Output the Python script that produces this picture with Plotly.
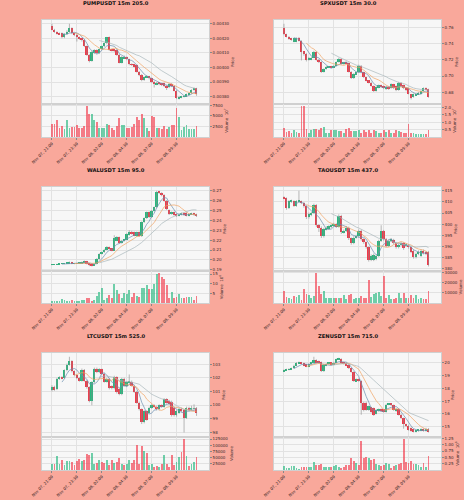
import plotly.graph_objects as go
import pandas as pd

# ---------------- data ----------------
times = pd.date_range("2025-11-07 21:00", periods=59, freq="15min")

titles = ["PUMPUSDT 15m 205.0", "SPXUSDT 15m 30.0", "WALUSDT 15m 95.0",
          "TAOUSDT 15m 437.0", "LTCUSDT 15m 525.0", "ZENUSDT 15m 715.0"]

pump_open = [.004286,.004259,.004243,.004236,.004236,.004206,.004229,.004247,.004270,.004236,
             .004224,.004208,.004201,.004190,.004144,.004086,.004045,.004098,.004121,.004098,
             .004125,.004144,.004167,.004206,.004121,.004121,.004121,.004086,.004033,.004063,
             .004070,.004056,.004022,.004017,.004017,.003971,.003948,.003914,.003932,.003937,
             .003925,.003902,.003884,.003895,.003891,.003891,.003872,.003863,.003886,.003872,
             .003840,.003787,.003794,.003799,.003803,.003815,.003822,.003845,.003856]
pump_close = [.004259,.004243,.004231,.004229,.004206,.004229,.004247,.004270,.004236,.004224,
              .004208,.004201,.004190,.004144,.004086,.004045,.004109,.004121,.004098,.004125,
              .004144,.004167,.004206,.004121,.004119,.004114,.004086,.004033,.004070,.004075,
              .004056,.004022,.004017,.004006,.003971,.003948,.003914,.003932,.003941,.003925,
              .003902,.003884,.003895,.003884,.003879,.003872,.003863,.003886,.003872,.003840,
              .003787,.003799,.003799,.003803,.003815,.003822,.003845,.003856,.003815]
pump_high = [.004300,.004265,.004248,.004240,.004240,.004236,.004255,.004300,.004275,.004240,
             .004229,.004212,.004206,.004195,.004150,.004092,.004115,.004125,.004125,.004130,
             .004150,.004172,.004210,.004212,.004128,.004125,.004125,.004092,.004078,.004082,
             .004075,.004060,.004028,.004022,.004022,.003975,.003955,.003938,.003948,.003942,
             .003930,.003908,.003900,.003900,.003895,.003895,.003878,.003892,.003892,.003878,
             .003845,.003805,.003805,.003810,.003820,.003828,.003850,.003862,.003860]
pump_low = [.004255,.004238,.004226,.004224,.004200,.004201,.004224,.004240,.004229,.004215,
            .004178,.004190,.004178,.004140,.004080,.004035,.004040,.004092,.004092,.004092,
            .004120,.004140,.004160,.004115,.004110,.004105,.004080,.004028,.004028,.004058,
            .004050,.004015,.004010,.004000,.003965,.003940,.003905,.003908,.003928,.003918,
            .003895,.003862,.003878,.003878,.003872,.003865,.003845,.003858,.003865,.003835,
            .003782,.003780,.003788,.003794,.003798,.003810,.003818,.003840,.003805]
pump_vol = [3125,3125,3906,2188,2500,1797,4063,2188,2344,2344,
            2734,2188,2188,2500,7188,5313,5313,3906,3438,2109,
            2109,2109,3125,2734,2188,1563,2500,4375,2891,2891,
            2188,2188,2344,2969,4688,3906,5469,4531,2188,1328,
            4844,4688,2188,2188,1953,2656,1953,2344,2734,2734,
            6875,4609,1641,2422,2891,1875,1875,1875,2656]

spx_open = [.7588,.7513,.7483,.7463,.7421,.7421,.7463,.7433,.7296,.7275,
            .7200,.7200,.7225,.7296,.7200,.7171,.7054,.7088,.7108,.7117,
            .7108,.7129,.7171,.7213,.7150,.7167,.7158,.7054,.6975,.7025,
            .7046,.7129,.7046,.6983,.6942,.6921,.6879,.6817,.6858,.6888,
            .6879,.6838,.6867,.6850,.6900,.6879,.6825,.6921,.6888,.6858,
            .6850,.6775,.6742,.6767,.6775,.6783,.6817,.6850,.6838]
spx_close = [.7513,.7483,.7454,.7442,.7463,.7463,.7433,.7296,.7275,.7200,
             .7225,.7225,.7296,.7200,.7171,.7054,.7088,.7117,.7117,.7108,
             .7129,.7171,.7213,.7150,.7167,.7158,.7054,.6975,.7025,.7046,
             .7129,.7046,.6983,.6942,.6921,.6879,.6817,.6867,.6888,.6867,
             .6850,.6867,.6838,.6900,.6850,.6825,.6921,.6879,.6850,.6825,
             .6783,.6733,.6775,.6783,.6796,.6817,.6850,.6838,.6742]
spx_high = [.7642,.7520,.7490,.7470,.7470,.7475,.7480,.7440,.7300,.7285,
            .7235,.7235,.7310,.7305,.7210,.7180,.7095,.7125,.7125,.7125,
            .7135,.7180,.7225,.7220,.7175,.7175,.7165,.7060,.7035,.7055,
            .7140,.7135,.7050,.6990,.6950,.6930,.6885,.6875,.6895,.6895,
            .6885,.6875,.6875,.6910,.6905,.6885,.6930,.6925,.6895,.6865,
            .6855,.6780,.6785,.6790,.6805,.6825,.6860,.6860,.6845]
spx_low = [.7500,.7475,.7445,.7435,.7415,.7415,.7425,.7192,.7250,.7180,
           .7190,.7195,.7220,.7190,.7160,.7040,.7045,.7080,.7100,.7100,
           .7100,.7120,.7165,.7140,.7140,.7150,.7045,.6965,.6965,.7015,
           .7040,.7035,.6975,.6935,.6910,.6870,.6805,.6810,.6850,.6860,
           .6840,.6830,.6830,.6845,.6840,.6815,.6820,.6870,.6840,.6815,
           .6775,.6713,.6735,.6760,.6770,.6775,.6810,.6830,.6735]
spx_vol = [0.605,0.336,0.381,0.269,0.493,0.314,0.269,2.063,2.063,0.538,
           0.269,0.493,0.561,0.538,0.448,0.628,0.673,0.269,0.269,0.448,
           0.448,0.448,0.404,0.381,0.269,0.561,0.605,0.381,0.381,0.381,
           0.448,0.291,0.448,0.336,0.493,0.269,0.493,0.381,0.269,0.269,
           0.448,0.336,0.493,0.269,0.291,0.493,0.381,0.314,0.269,0.269,
           0.897,0.269,0.269,0.224,0.224,0.224,0.224,0.224,0.448]

wal_open = [.1951,.1954,.1954,.1957,.1961,.1961,.1964,.1964,.1978,.1961,
            .1964,.1967,.1967,.1978,.1988,.1961,.1951,.1944,.1961,.2011,
            .2062,.2078,.2105,.2129,.2112,.2095,.2196,.2230,.2172,.2193,
            .2206,.2253,.2287,.2280,.2240,.2280,.2240,.2381,.2421,.2482,
            .2431,.2498,.2532,.2690,.2676,.2656,.2599,.2505,.2465,.2482,
            .2465,.2448,.2458,.2472,.2475,.2448,.2461,.2472,.2461]
wal_close = [.1954,.1955,.1957,.1961,.1964,.1964,.1971,.1978,.1961,.1964,
             .1967,.1971,.1978,.1988,.1961,.1944,.1941,.1961,.2011,.2062,
             .2078,.2105,.2129,.2112,.2095,.2220,.2230,.2172,.2196,.2206,
             .2263,.2287,.2263,.2246,.2280,.2240,.2381,.2421,.2482,.2431,
             .2498,.2532,.2690,.2676,.2656,.2599,.2515,.2465,.2482,.2455,
             .2441,.2465,.2472,.2455,.2448,.2465,.2472,.2455,.2441]
wal_high = [.1958,.1958,.1961,.1964,.1967,.1968,.1974,.1984,.1981,.1968,
            .1971,.1974,.1984,.1994,.1991,.1964,.1954,.1964,.2018,.2068,
            .2085,.2112,.2140,.2135,.2118,.2250,.2240,.2236,.2203,.2213,
            .2270,.2300,.2294,.2287,.2287,.2287,.2390,.2430,.2490,.2490,
            .2505,.2540,.2700,.2700,.2685,.2665,.2606,.2512,.2490,.2490,
            .2472,.2472,.2480,.2478,.2482,.2472,.2478,.2478,.2468]
wal_low = [.1947,.1950,.1951,.1954,.1958,.1957,.1961,.1961,.1957,.1957,
           .1961,.1964,.1964,.1974,.1954,.1937,.1934,.1941,.1957,.2005,
           .2055,.2072,.2098,.2105,.2088,.2090,.2190,.2165,.2165,.2186,
           .2200,.2246,.2256,.2240,.2233,.2233,.2233,.2375,.2415,.2425,
           .2425,.2490,.2525,.2668,.2645,.2590,.2505,.2455,.2458,.2448,
           .2435,.2441,.2451,.2448,.2441,.2441,.2455,.2448,.2435]
wal_vol = [1.21,1.03,0.86,1.03,1.90,1.55,0.86,0.86,1.55,1.03,
           1.03,1.21,1.55,1.72,2.41,2.76,1.03,1.55,3.79,5.86,
           7.93,1.38,2.41,4.14,2.76,9.66,6.72,4.48,2.76,5.00,
           4.48,6.72,2.93,5.34,3.79,3.28,7.93,7.59,9.31,7.07,
           7.24,9.66,15.00,15.34,13.62,12.24,9.31,2.76,5.86,2.41,
           3.28,4.48,2.41,2.41,3.28,2.93,2.93,1.55,3.62]

tao_open = [412.0,411.7,407.2,410.2,410.2,408.3,410.2,410.2,409.5,408.0,
            403.0,404.1,405.0,408.6,399.6,398.5,394.5,397.8,398.2,398.8,
            399.3,400.0,398.8,403.8,396.3,397.0,398.5,393.6,391.5,394.0,
            394.5,397.0,393.3,391.8,389.6,383.9,383.9,384.3,385.8,392.5,
            396.9,393.3,390.3,392.5,393.0,391.5,389.6,390.7,391.5,390.3,
            390.7,389.6,388.1,385.1,386.6,385.8,388.1,387.6,387.6]
tao_close = [411.7,407.2,410.2,410.5,408.3,410.2,410.5,409.5,408.0,403.0,
             404.5,405.0,408.6,399.6,398.5,394.5,397.8,398.5,399.0,399.3,
             400.0,398.8,403.8,396.3,397.0,398.5,393.6,391.5,394.0,394.5,
             397.0,393.3,391.8,389.6,383.9,385.8,386.1,385.8,392.5,396.9,
             393.3,390.3,392.5,393.3,391.5,389.6,390.7,391.5,389.1,391.0,
             389.6,387.6,385.1,386.6,387.6,388.1,387.0,386.6,381.6]
tao_high = [412.5,412.0,410.8,411.0,410.7,410.8,415.0,410.6,409.9,408.4,
            405.2,405.6,409.2,409.0,400.0,399.0,398.4,399.0,399.5,399.8,
            400.6,400.4,404.4,404.2,397.6,399.2,398.9,394.0,394.6,395.2,
            397.6,397.5,393.7,392.2,390.0,386.4,386.8,386.3,393.0,399.5,
            397.4,393.8,393.0,393.8,393.4,392.0,391.2,392.0,391.9,391.5,
            391.1,390.0,388.6,387.2,388.2,388.7,388.6,388.0,388.0]
tao_low = [411.2,406.5,406.8,409.6,407.8,407.8,409.8,409.0,407.4,402.3,
           402.5,403.6,404.6,398.8,396.5,393.8,394.0,397.2,397.6,398.3,
           398.9,398.3,398.4,395.6,395.8,396.5,392.9,390.8,391.0,393.5,
           394.0,392.6,391.2,389.0,383.2,383.4,383.4,383.8,385.3,392.0,
           392.6,389.7,389.8,392.0,390.9,389.0,389.1,390.2,388.5,389.8,
           389.0,387.0,384.5,384.6,386.1,385.3,386.4,386.1,381.0]
tao_vol = [11502,5751,4473,3834,6710,6071,7668,2556,13419,9266,
           7668,4473,6710,29075,16614,9266,11502,4473,4473,4473,
           5112,5112,5112,4473,7668,3515,8307,8627,3834,4473,
           5112,6710,5112,5112,22685,6071,9266,9905,10863,7029,
           26838,5112,7668,3834,3834,4473,10224,4473,9905,4473,
           4473,7668,5112,7668,3834,4473,3834,3834,11502]

ltc_open = [101.10,101.35,101.18,101.93,102.05,101.98,102.55,102.98,103.25,102.48,
            102.18,101.98,101.80,102.60,101.80,101.30,100.30,101.68,102.68,102.43,
            102.63,102.30,101.73,101.93,101.38,101.23,102.05,101.18,100.80,101.93,
            101.43,101.63,101.73,101.43,100.98,100.18,99.68,98.73,99.55,99.43,
            99.80,99.98,99.88,99.68,99.98,99.88,100.43,100.30,100.25,99.80,
            99.23,99.43,99.73,99.60,99.05,99.80,99.68,99.73,99.75]
ltc_close = [101.35,101.13,101.93,102.05,101.98,102.55,102.98,103.25,102.48,102.18,
             101.98,101.80,102.60,101.80,101.30,100.30,101.68,102.68,102.43,102.63,
             102.30,101.73,101.93,101.23,101.23,102.05,100.93,100.80,101.93,101.43,
             101.68,101.73,101.43,100.98,100.18,99.68,98.73,99.55,98.93,99.80,
             99.98,99.88,99.68,99.98,99.88,100.43,100.18,100.05,99.23,99.23,
             99.55,99.73,99.55,99.05,99.80,99.60,99.80,99.75,99.43]
ltc_high = [101.45,101.42,102.00,102.12,102.12,102.62,103.05,103.55,103.30,102.55,
            102.25,102.05,102.68,102.65,101.85,101.38,101.75,102.75,102.75,102.70,
            102.68,102.38,102.00,102.00,101.45,102.15,102.12,101.25,102.00,102.00,
            101.75,102.25,101.80,101.50,101.05,100.25,99.75,99.62,99.62,99.88,
            100.05,100.05,99.95,100.05,100.05,100.50,100.50,100.38,100.32,99.88,
            99.62,99.80,99.80,99.68,99.88,99.88,99.95,100.05,99.85]
ltc_low = [101.00,101.05,101.10,101.85,101.90,101.92,102.48,102.90,102.40,102.10,
           101.90,101.72,101.72,101.72,101.20,100.20,99.98,101.60,102.35,102.35,
           102.22,101.65,101.65,101.15,101.15,101.15,100.85,100.72,100.72,101.35,
           101.35,101.55,101.35,100.90,100.10,99.60,98.60,98.65,98.85,99.35,
           99.72,99.80,99.60,99.60,99.80,99.80,100.10,99.98,99.15,99.15,
           99.15,99.35,99.48,97.98,98.98,99.52,99.60,99.65,99.20]
ltc_vol = [24660,24660,54800,24660,41100,20550,35620,35620,34250,21920,
           35620,42470,35620,38360,63020,58910,69870,24660,27400,41100,
           34250,28770,38360,20550,38360,27400,34250,47950,24660,20550,
           24660,38360,27400,38360,102750,24660,95900,76720,68500,21920,
           24660,13700,17810,13700,24660,58910,24660,13700,58910,20550,
           31510,52060,72610,123300,54800,17810,24660,34250,52060]

zen_open = [19.32,19.41,19.44,19.46,19.55,19.77,19.94,20.00,19.94,19.83,
            19.69,19.89,20.00,20.20,20.11,20.03,19.32,19.77,19.89,19.97,
            19.83,20.00,20.25,20.28,20.00,19.97,19.83,19.55,19.27,18.56,
            18.70,18.56,16.87,16.87,16.31,16.51,16.45,16.03,16.23,16.37,
            16.31,16.17,16.73,16.79,16.68,16.23,16.39,15.94,15.66,15.18,
            15.10,14.90,14.76,14.62,14.68,14.70,14.82,14.68,14.85]
zen_close = [19.41,19.46,19.49,19.55,19.77,19.97,20.00,19.89,19.77,19.69,
             19.89,20.00,20.20,20.00,19.94,19.32,19.83,19.89,19.97,19.83,
             20.00,20.25,20.31,19.94,19.89,19.77,19.55,19.27,18.56,18.70,
             18.56,16.87,16.31,16.31,16.59,16.17,15.94,16.31,16.37,16.23,
             16.17,16.73,16.79,16.68,16.31,16.39,15.94,15.66,15.18,15.04,
             14.76,14.68,14.62,14.70,14.76,14.82,14.68,14.85,14.62]
zen_high = [19.46,19.52,19.55,19.60,19.83,20.03,20.08,20.05,19.99,19.88,
            19.94,20.06,20.45,20.25,20.16,20.08,19.88,19.94,20.03,20.02,
            20.06,20.31,20.37,20.33,20.05,20.02,19.88,19.60,19.32,18.76,
            18.76,18.62,16.95,16.95,16.65,16.56,16.50,16.37,16.42,16.42,
            16.37,16.79,16.85,16.85,16.73,16.45,16.45,16.00,15.72,15.24,
            15.16,14.96,14.82,14.76,14.82,14.88,14.88,14.92,14.90]
zen_low = [19.27,19.38,19.40,19.42,19.50,19.72,19.90,19.85,19.72,19.64,
           19.64,19.85,19.95,19.95,19.90,19.27,19.27,19.72,19.85,19.79,
           19.79,19.95,20.20,19.90,19.84,19.72,19.50,19.22,18.50,18.50,
           18.50,15.94,16.20,16.25,16.25,16.10,15.85,15.97,16.17,16.17,
           16.11,16.11,16.68,16.62,16.25,16.17,15.88,15.60,14.85,14.98,
           14.70,14.62,14.56,14.56,14.62,14.65,14.62,14.62,14.56]
zen_vol = [0.158,0.079,0.079,0.171,0.171,0.079,0.053,0.132,0.132,0.132,
           0.132,0.132,0.303,0.197,0.197,0.237,0.132,0.132,0.105,0.132,
           0.158,0.197,0.132,0.092,0.105,0.197,0.197,0.461,0.368,0.263,
           0.211,1.158,0.461,0.526,0.461,0.395,0.421,0.237,0.197,0.158,
           0.197,0.289,0.224,0.092,0.158,0.197,0.224,0.289,1.211,0.303,
           0.263,0.355,0.237,0.224,0.197,0.132,0.263,0.132,0.553]

price_ticks = [[0.0038, 0.0039, 0.0040, 0.0041, 0.0042, 0.0043],
               [0.68, 0.70, 0.72, 0.74, 0.76],
               [0.19, 0.20, 0.21, 0.22, 0.23, 0.24, 0.25, 0.26, 0.27],
               [380, 385, 390, 395, 400, 405, 410, 415],
               [98, 99, 100, 101, 102, 103],
               [14, 15, 16, 17, 18, 19, 20]]
volume_ticks = [[2500, 5000, 7500],
                [0.5, 1.0, 1.5, 2.0],
                [5, 10, 15],
                [10000, 20000, 30000],
                [25000, 50000, 75000, 100000, 125000],
                [0.25, 0.50, 0.75, 1.00, 1.25]]
volume_titles = ["Volume  10<sup>7</sup>", "Volume  10<sup>7</sup>", "Volume  10<sup>6</sup>",
                 "Volume", "Volume", "Volume  10<sup>6</sup>"]

# ---------------- style ----------------
price_fmt = [".5f", ".2f", ".2f", "d", "d", "d"]
vol_fmt = ["d", ".1f", "d", "d", "d", ".2f"]
UP = "#26b97f"
DN = "#f2394a"
UP_V = "rgba(38,185,127,0.65)"
DN_V = "rgba(242,57,74,0.65)"
MA_COLORS = ["#6c8fb0", "#f0a463", "#a9b8bc"]
BG = "#f9a89b"
W, H = 464, 500
col_x = [(42, 209), (274, 441)]
rows_px = [(20, 104, 137), (187, 271, 303), (353, 437, 470)]
title_y = [3, 170, 336]

panels = [
    (pump_open, pump_high, pump_low, pump_close, pump_vol),
    (spx_open, spx_high, spx_low, spx_close, spx_vol),
    (wal_open, wal_high, wal_low, wal_close, wal_vol),
    (tao_open, tao_high, tao_low, tao_close, tao_vol),
    (ltc_open, ltc_high, ltc_low, ltc_close, ltc_vol),
    (zen_open, zen_high, zen_low, zen_close, zen_vol),
]

tick_idx = list(range(0, len(times), 10))
tick_txt = [times[i].strftime("%b %d, %H:%M") for i in tick_idx]

fig = go.Figure()
layout = {}
annotations = []
tick_font = dict(size=4, color="#3a2a2a", family="DejaVu Sans")

def ax_name(kind, n):
    return kind + ("" if n == 1 else str(n))

for k, (o, h, l, c, v) in enumerate(panels):
    r, cc = divmod(k, 2)
    n_p, n_v = 2 * k + 1, 2 * k + 2
    xp, yp = ax_name("x", n_p), ax_name("y", n_p)
    xv, yv = ax_name("x", n_v), ax_name("y", n_v)
    idx = list(range(len(o)))
    up = [ci >= oi for oi, ci in zip(o, c)]

    # wicks
    wx, wy = [], []
    for i in idx:
        wx += [i, i, None]
        wy += [l[i], h[i], None]
    fig.add_trace(go.Scatter(x=wx, y=wy, mode="lines", line=dict(color="#8a8a8a", width=0.6),
                             xaxis=xp, yaxis=yp, hoverinfo="skip", showlegend=False))
    # bodies
    fig.add_trace(go.Bar(x=idx, y=[ci - oi for oi, ci in zip(o, c)], base=o, width=0.72,
                         marker=dict(color=[UP if u else DN for u in up], line=dict(width=0)),
                         xaxis=xp, yaxis=yp, showlegend=False))
    # moving averages
    s = pd.Series(c)
    for w_, col in zip((5, 10, 20), MA_COLORS):
        fig.add_trace(go.Scatter(x=idx, y=s.rolling(w_).mean(), mode="lines",
                                 line=dict(color=col, width=0.7), xaxis=xp, yaxis=yp,
                                 hoverinfo="skip", showlegend=False))
    # volume
    fig.add_trace(go.Bar(x=idx, y=v, width=0.72,
                         marker=dict(color=[UP_V if u else DN_V for u in up], line=dict(width=0)),
                         xaxis=xv, yaxis=yv, showlegend=False))

    x0, x1 = col_x[cc]
    top, mid, bot = rows_px[r]
    xdom = [x0 / W, x1 / W]
    lo, hi = min(l), max(h)
    span = hi - lo
    common_x = dict(domain=xdom, range=[-4, len(o) + 4], showgrid=True, gridcolor="#e2e2e2",
                    gridwidth=0.5, tickvals=tick_idx, zeroline=False, showline=True,
                    linecolor="#d0d0d0", linewidth=0.6, mirror=True, automargin=False)
    layout["x" + "axis" + ("" if n_p == 1 else str(n_p))] = dict(
        common_x, anchor=yp, showticklabels=False, ticks="", rangeslider=dict(visible=False))
    layout["x" + "axis" + str(n_v)] = dict(
        common_x, anchor=yv, matches=xp, ticktext=tick_txt, tickangle=-45, ticks="outside",
        ticklen=2, tickcolor="#888", tickfont=tick_font)
    layout["y" + "axis" + ("" if n_p == 1 else str(n_p))] = dict(
        domain=[1 - mid / H, 1 - top / H], anchor=xp, side="right",
        range=[lo - 0.06 * span, hi + 0.05 * span], tickvals=price_ticks[k],
        tickformat=price_fmt[k], showgrid=True, gridcolor="#e2e2e2", gridwidth=0.5,
        zeroline=False, showline=True, linecolor="#d0d0d0", linewidth=0.6, mirror=True,
        ticks="outside", ticklen=2, tickcolor="#888", tickfont=tick_font, automargin=False,
        title=dict(text="Price", font=dict(size=4, color="#3a2a2a"), standoff=2))
    layout["y" + "axis" + str(n_v)] = dict(
        domain=[1 - bot / H, 1 - mid / H], anchor=xv, side="right",
        range=[0, max(v) * 1.08], tickvals=volume_ticks[k], tickformat=vol_fmt[k],
        showgrid=True, gridcolor="#e2e2e2", gridwidth=0.5, zeroline=False, showline=True,
        linecolor="#d0d0d0", linewidth=0.6, mirror=True, ticks="outside", ticklen=2,
        tickcolor="#888", tickfont=tick_font, automargin=False,
        title=dict(text=volume_titles[k], font=dict(size=4, color="#3a2a2a"), standoff=2))
    annotations.append(dict(text="<b>" + titles[k] + "</b>", x=0.25 + 0.5 * cc,
                            y=1 - title_y[r] / H, xref="paper", yref="paper",
                            xanchor="center", yanchor="middle", showarrow=False,
                            font=dict(size=5.2, color="#111", family="DejaVu Sans")))

fig.update_layout(**layout)
fig.update_layout(width=W, height=H, margin=dict(l=0, r=0, t=0, b=0),
                  paper_bgcolor=BG, plot_bgcolor="#f7f7f7", showlegend=False,
                  annotations=annotations, hovermode=False, bargap=0,
                  font=dict(family="DejaVu Sans"))
fig.write_html("out.html")
